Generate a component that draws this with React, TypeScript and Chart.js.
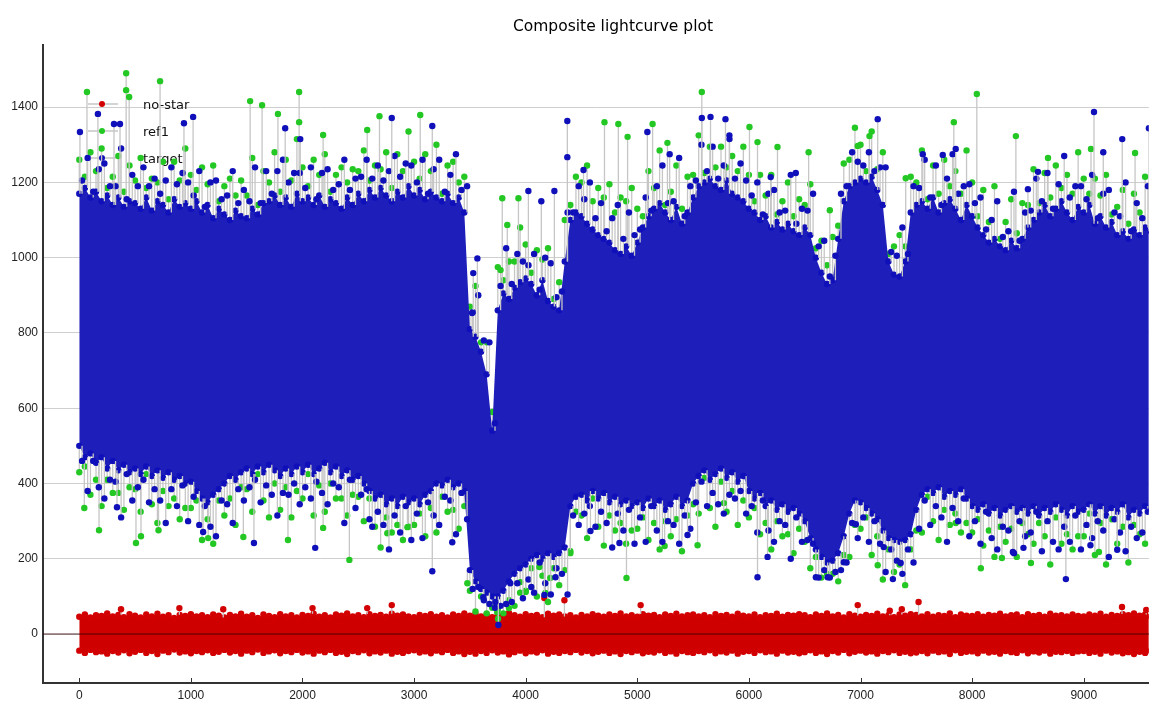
import React, { useEffect, useRef } from "react";
import { Chart, registerables } from "chart.js";

Chart.register(...registerables);

const frames = [
  0, 50, 100, 150, 200, 250, 300, 350, 400, 450,
  500, 550, 600, 650, 700, 750, 800, 850, 900, 950,
  1000, 1050, 1100, 1150, 1200, 1250, 1300, 1350, 1400, 1450,
  1500, 1550, 1600, 1650, 1700, 1750, 1800, 1850, 1900, 1950,
  2000, 2050, 2100, 2150, 2200, 2250, 2300, 2350, 2400, 2450,
  2500, 2550, 2600, 2650, 2700, 2750, 2800, 2850, 2900, 2950,
  3000, 3050, 3100, 3150, 3200, 3250, 3300, 3350, 3400, 3450,
  3500, 3550, 3600, 3650, 3700, 3750, 3800, 3850, 3900, 3950,
  4000, 4050, 4100, 4150, 4200, 4250, 4300, 4350, 4400, 4450,
  4500, 4550, 4600, 4650, 4700, 4750, 4800, 4850, 4900, 4950,
  5000, 5050, 5100, 5150, 5200, 5250, 5300, 5350, 5400, 5450,
  5500, 5550, 5600, 5650, 5700, 5750, 5800, 5850, 5900, 5950,
  6000, 6050, 6100, 6150, 6200, 6250, 6300, 6350, 6400, 6450,
  6500, 6550, 6600, 6650, 6700, 6750, 6800, 6850, 6900, 6950,
  7000, 7050, 7100, 7150, 7200, 7250, 7300, 7350, 7400, 7450,
  7500, 7550, 7600, 7650, 7700, 7750, 7800, 7850, 7900, 7950,
  8000, 8050, 8100, 8150, 8200, 8250, 8300, 8350, 8400, 8450,
  8500, 8550, 8600, 8650, 8700, 8750, 8800, 8850, 8900, 8950,
  9000, 9050, 9100, 9150, 9200, 9250, 9300, 9350, 9400, 9450,
  9500, 9550, 9600,
];
// Frames of the scattered target points just outside the dense cloud
const fringeFrames = [
  25, 75, 125, 175, 225, 275, 325, 375, 425, 475,
  525, 575, 625, 675, 725, 775, 825, 875, 925, 975,
  1025, 1075, 1125, 1175, 1225, 1275, 1325, 1375, 1425, 1475,
  1525, 1575, 1625, 1675, 1725, 1775, 1825, 1875, 1925, 1975,
  2025, 2075, 2125, 2175, 2225, 2275, 2325, 2375, 2425, 2475,
  2525, 2575, 2625, 2675, 2725, 2775, 2825, 2875, 2925, 2975,
  3025, 3075, 3125, 3175, 3225, 3275, 3325, 3375, 3425, 3475,
  3525, 3575, 3625, 3675, 3725, 3775, 3825, 3875, 3925, 3975,
  4025, 4075, 4125, 4175, 4225, 4275, 4325, 4375, 4425, 4475,
  4525, 4575, 4625, 4675, 4725, 4775, 4825, 4875, 4925, 4975,
  5025, 5075, 5125, 5175, 5225, 5275, 5325, 5375, 5425, 5475,
  5525, 5575, 5625, 5675, 5725, 5775, 5825, 5875, 5925, 5975,
  6025, 6075, 6125, 6175, 6225, 6275, 6325, 6375, 6425, 6475,
  6525, 6575, 6625, 6675, 6725, 6775, 6825, 6875, 6925, 6975,
  7025, 7075, 7125, 7175, 7225, 7275, 7325, 7375, 7425, 7475,
  7525, 7575, 7625, 7675, 7725, 7775, 7825, 7875, 7925, 7975,
  8025, 8075, 8125, 8175, 8225, 8275, 8325, 8375, 8425, 8475,
  8525, 8575, 8625, 8675, 8725, 8775, 8825, 8875, 8925, 8975,
  9025, 9075, 9125, 9175, 9225, 9275, 9325, 9375, 9425, 9475,
  9525, 9575,
];

// target: upper / lower edge of the dense cloud
const targetHigh = [
  1170, 1185, 1160, 1175, 1150, 1165, 1140, 1160, 1135, 1150,
  1145, 1130, 1160, 1125, 1150, 1140, 1120, 1155, 1135, 1145,
  1130, 1150, 1120, 1140, 1105, 1130, 1115, 1100, 1125, 1110,
  1105, 1130, 1115, 1145, 1150, 1165, 1140, 1160, 1135, 1170,
  1150, 1160, 1140, 1165, 1135, 1155, 1145, 1130, 1160, 1140,
  1170, 1150, 1180, 1160, 1185, 1165, 1150, 1175, 1160, 1190,
  1165, 1180, 1155, 1175, 1160, 1150, 1170, 1145, 1160, 1120,
  810, 790, 750, 690, 540, 860, 905, 890, 920, 935,
  945, 930, 900, 940, 885, 870, 860, 990, 1100, 1120,
  1110, 1090, 1075, 1060, 1050, 1040, 1020, 1010, 1030, 1005,
  1040, 1080, 1110, 1130, 1145, 1120, 1100, 1135, 1090, 1120,
  1160, 1190, 1200, 1210, 1190, 1180, 1205, 1170, 1160, 1150,
  1130, 1120, 1100, 1110, 1080, 1095, 1075, 1090, 1070, 1060,
  1080, 1060, 1000, 960, 930, 940, 1050, 1150, 1190, 1200,
  1210, 1200, 1215, 1180, 1140, 990, 955, 950, 990, 1120,
  1140, 1150, 1130, 1160, 1120, 1145, 1155, 1130, 1100, 1140,
  1110, 1080, 1060, 1040, 1050, 1030, 1020, 1045, 1025, 1050,
  1080, 1100, 1120, 1140, 1110, 1130, 1150, 1120, 1100, 1135,
  1120, 1140, 1090, 1110, 1080, 1095, 1060, 1070, 1050, 1075,
  1060, 1080, 1070,
];
const targetLow = [
  500, 470, 480, 455, 470, 440, 460, 435, 450, 430,
  440, 425, 445, 420, 435, 415, 430, 410, 420, 400,
  405, 380, 360, 350, 370, 385, 400, 420, 410, 430,
  440, 425, 445, 430, 450, 435, 420, 440, 425, 445,
  430, 450, 425, 440, 455, 430, 445, 420, 435, 410,
  420, 400, 380, 360, 370, 345, 360, 340, 365, 350,
  360, 345, 370, 380, 400, 395, 410, 390, 400, 380,
  170, 140, 120, 110, 100, 100, 115, 140, 160, 175,
  185, 200, 210, 200, 215, 205, 215, 230, 340, 365,
  370, 355, 380, 360, 375, 350, 365, 345, 355, 340,
  350, 335, 360, 340, 355, 330, 345, 365, 340, 355,
  400, 420, 435, 410, 425, 440, 415, 430, 405, 420,
  380, 360, 375, 340, 355, 330, 345, 325, 335, 320,
  300, 255, 225, 205, 190, 195, 215, 260, 320, 355,
  350, 335, 320, 305, 275, 255, 250, 245, 250, 265,
  330, 370, 385, 375, 390, 365, 380, 370, 385, 360,
  340, 330, 345, 320, 335, 315, 330, 340, 325, 335,
  320, 340, 315, 335, 325, 345, 330, 315, 340, 325,
  330, 345, 320, 340, 315, 335, 325, 345, 310, 330,
  320, 340, 330,
];
// target: scattered points above / below the dense cloud (at fringeFrames)
const targetFringeHigh = [
  1205, 1265, 1175, 1235, 1250, 1190, 1190, 1290, 1155, 1220,
  1190, 1240, 1190, 1210, 1170, 1205, 1240, 1195, 1225, 1200,
  1165, 1230, 1135, 1200, 1205, 1155, 1165, 1230, 1145, 1180,
  1150, 1240, 1145, 1230, 1170, 1230, 1260, 1200, 1225, 1225,
  1185, 1240, 1155, 1225, 1235, 1180, 1195, 1260, 1180, 1210,
  1215, 1260, 1210, 1245, 1205, 1230, 1270, 1215, 1250, 1245,
  1200, 1260, 1170, 1235, 1260, 1175, 1220, 1275, 1180, 1190,
  855, 900, 780, 775, 560, 925, 1025, 930, 1010, 990,
  980, 1010, 915, 1000, 985, 895, 910, 1120, 1120, 1190,
  1155, 1200, 1105, 1145, 1070, 1105, 1140, 1050, 1120, 1060,
  1075, 1160, 1125, 1190, 1245, 1145, 1150, 1265, 1110, 1190,
  1205, 1300, 1230, 1295, 1210, 1245, 1325, 1210, 1250, 1205,
  1165, 1200, 1115, 1170, 1180, 1120, 1125, 1220, 1090, 1130,
  1125, 1170, 1030, 1045, 950, 1005, 1170, 1190, 1280, 1255,
  1245, 1280, 1230, 1240, 1240, 1015, 1005, 1080, 1010, 1190,
  1185, 1260, 1160, 1245, 1140, 1210, 1275, 1170, 1190, 1195,
  1145, 1160, 1075, 1100, 1150, 1055, 1070, 1175, 1045, 1120,
  1125, 1210, 1150, 1225, 1130, 1195, 1270, 1160, 1190, 1190,
  1155, 1220, 1105, 1170, 1180, 1120, 1110, 1200, 1070, 1145,
  1105, 1190,
];
const targetFringeLow = [
  460, 380, 460, 390, 360, 410, 405, 310, 425, 355,
  390, 410, 350, 385, 355, 295, 385, 340, 395, 300,
  365, 290, 340, 285, 260, 355, 345, 295, 385, 355,
  390, 410, 350, 395, 370, 315, 375, 370, 400, 345,
  390, 360, 405, 375, 345, 400, 390, 295, 410, 335,
  370, 385, 285, 325, 290, 225, 315, 270, 340, 250,
  320, 255, 350, 315, 290, 365, 355, 265, 375, 305,
  120, 125, 90, 80, 70, 75, 80, 85, 135, 95,
  145, 110, 190, 135, 105, 175, 160, 105, 315, 290,
  320, 340, 285, 325, 295, 230, 320, 275, 330, 240,
  310, 245, 340, 275, 245, 300, 290, 240, 315, 280,
  350, 405, 340, 375, 345, 320, 370, 360, 380, 320,
  340, 270, 355, 275, 245, 300, 290, 200, 310, 245,
  250, 240, 150, 170, 150, 165, 170, 190, 295, 255,
  310, 245, 300, 240, 165, 225, 195, 160, 225, 190,
  280, 355, 290, 340, 310, 245, 335, 300, 360, 260,
  300, 240, 325, 255, 225, 285, 275, 215, 300, 260,
  270, 325, 220, 300, 245, 225, 285, 245, 315, 225,
  290, 255, 300, 275, 205, 305, 270, 220, 285, 255,
  270, 325,
];

// ref1: points seen above / below the target cloud
const refHigh = [
  1260, 1215, 1280, 1230, 1290, 1185, 1215, 1270, 1175, 1245,
  1205, 1265, 1185, 1210, 1200, 1255, 1155, 1255, 1205, 1290,
  1220, 1180, 1240, 1195, 1245, 1150, 1190, 1210, 1165, 1205,
  1165, 1265, 1140, 1230, 1200, 1280, 1175, 1260, 1205, 1315,
  1240, 1190, 1260, 1220, 1275, 1175, 1220, 1240, 1200, 1235,
  1230, 1285, 1205, 1245, 1235, 1280, 1185, 1275, 1230, 1335,
  1255, 1210, 1275, 1230, 1300, 1170, 1245, 1255, 1200, 1215,
  870, 925, 775, 775, 590, 975, 940, 990, 990, 1080,
  1035, 960, 1020, 995, 1025, 890, 935, 1100, 1140, 1215,
  1200, 1245, 1150, 1185, 1160, 1195, 1120, 1160, 1150, 1185,
  1130, 1110, 1230, 1185, 1285, 1140, 1175, 1245, 1130, 1215,
  1220, 1325, 1225, 1295, 1240, 1295, 1240, 1270, 1230, 1295,
  1220, 1150, 1220, 1165, 1220, 1115, 1150, 1200, 1110, 1155,
  1140, 1195, 1025, 1045, 980, 1055, 1085, 1250, 1260, 1345,
  1300, 1230, 1335, 1235, 1280, 1010, 1030, 1060, 1030, 1215,
  1200, 1285, 1155, 1245, 1170, 1260, 1190, 1230, 1170, 1285,
  1200, 1110, 1180, 1095, 1190, 1050, 1095, 1155, 1065, 1145,
  1140, 1235, 1145, 1225, 1160, 1245, 1185, 1220, 1170, 1280,
  1210, 1170, 1210, 1165, 1220, 1115, 1135, 1180, 1090, 1170,
  1120, 1215, 1095,
];
const refLow = [
  430, 445, 370, 410, 340, 410, 375, 375, 330, 390,
  385, 325, 425, 345, 295, 380, 340, 360, 305, 335,
  335, 355, 250, 305, 240, 355, 315, 360, 290, 390,
  385, 325, 425, 355, 310, 400, 330, 390, 310, 380,
  360, 425, 315, 395, 325, 400, 360, 360, 315, 370,
  365, 300, 360, 285, 230, 310, 270, 290, 250, 285,
  290, 320, 260, 335, 270, 365, 325, 330, 280, 340,
  115, 60, 100, 55, 70, 65, 55, 90, 75, 110,
  115, 175, 100, 155, 85, 175, 130, 170, 220, 325,
  315, 255, 360, 285, 235, 315, 275, 295, 240, 275,
  280, 310, 250, 295, 225, 300, 260, 305, 220, 315,
  345, 320, 415, 335, 285, 405, 325, 380, 290, 355,
  310, 335, 265, 295, 225, 300, 260, 265, 215, 280,
  245, 175, 205, 150, 160, 160, 140, 210, 205, 290,
  280, 310, 210, 260, 145, 225, 165, 185, 130, 225,
  275, 270, 365, 300, 250, 330, 290, 320, 270, 295,
  270, 305, 235, 275, 205, 285, 245, 280, 205, 295,
  265, 240, 295, 260, 185, 310, 240, 265, 225, 260,
  260, 320, 210, 295, 185, 305, 240, 285, 190, 290,
  265, 240, 310,
];

// no-star: upper / lower edge of the band around zero
const noStarHigh = [
  46, 52, 44, 50, 48, 55, 47, 51, 45, 53,
  49, 44, 52, 47, 54, 46, 50, 43, 51, 48,
  53, 47, 50, 45, 52, 49, 44, 51, 47, 54,
  46, 50, 43, 52, 48, 45, 53, 47, 50, 44,
  51, 48, 54, 46, 50, 44, 52, 49, 55, 47,
  50, 45, 53, 48, 51, 46, 54, 49, 52, 47,
  45, 51, 48, 53, 46, 50, 44, 52, 48, 55,
  49, 54, 47, 52, 45, 51, 48, 56, 50, 46,
  53, 48, 51, 45, 54, 49, 52, 47, 50, 44,
  51, 47, 53, 49, 46, 52, 48, 55, 47, 50,
  46, 53, 49, 51, 45, 52, 48, 54, 47, 50,
  52, 47, 50, 45, 53, 48, 51, 46, 54, 49,
  47, 52, 45, 50, 48, 54, 46, 51, 49, 53,
  50, 45, 52, 48, 55, 47, 51, 44, 53, 49,
  46, 51, 48, 54, 47, 50, 45, 52, 49, 53,
  51, 47, 53, 46, 50, 48, 55, 45, 52, 49,
  48, 53, 46, 51, 49, 54, 47, 50, 52, 45,
  53, 48, 51, 46, 54, 49, 50, 47, 52, 48,
  47, 52, 49, 54, 46, 51, 48, 53, 50, 55,
  49, 52, 47,
];
const noStarLow = [
  -44, -50, -42, -48, -46, -52, -45, -49, -43, -51,
  -47, -42, -50, -45, -53, -44, -48, -41, -49, -46,
  -51, -45, -48, -43, -50, -47, -42, -49, -45, -52,
  -44, -48, -41, -50, -46, -43, -51, -45, -48, -42,
  -49, -46, -52, -44, -48, -42, -50, -47, -53, -45,
  -48, -43, -51, -46, -49, -44, -52, -47, -50, -45,
  -43, -49, -46, -51, -44, -48, -42, -50, -46, -53,
  -47, -52, -45, -50, -43, -49, -46, -54, -48, -44,
  -51, -46, -49, -43, -52, -47, -50, -45, -48, -42,
  -49, -45, -51, -47, -44, -50, -46, -53, -45, -48,
  -44, -51, -47, -49, -43, -50, -46, -52, -45, -48,
  -50, -45, -48, -43, -51, -46, -49, -44, -52, -47,
  -45, -50, -43, -48, -46, -52, -44, -49, -47, -51,
  -48, -43, -50, -46, -53, -45, -49, -42, -51, -47,
  -44, -49, -46, -52, -45, -48, -43, -50, -47, -51,
  -49, -45, -51, -44, -48, -46, -53, -43, -50, -47,
  -46, -51, -44, -49, -47, -52, -45, -48, -50, -43,
  -51, -46, -49, -44, -52, -47, -48, -45, -50, -46,
  -45, -50, -47, -52, -44, -49, -46, -51, -48, -53,
  -47, -50, -45,
];

// isolated points far outside the clouds
const targetOutFrames = [
  6, 167, 311, 365, 938, 1020, 1845, 1980, 2800, 3163,
  338, 1110, 1565, 2114, 3163, 2600, 3342,
  3520, 3530, 3567, 4024, 4140, 4257, 4373, 4373, 4518,
  3620, 3728, 3755, 3862, 4050, 4167, 4267,
  5090, 5290, 5578, 5656, 5790, 5826, 6195, 6420,
  4580, 4840, 5450, 6077, 6167, 6600, 6706, 6850, 6958,
  7154, 7558, 7737, 7853, 8500, 8590, 9092, 9175, 9345, 9584,
  7208, 7290, 7360, 8365, 8460, 8840, 9060, 9300,
];
const targetOutValues = [
  1334, 1382, 1355, 1355, 1357, 1374, 1344, 1315, 1371, 1350,
  337, 271, 242, 229, 167, 305, 244,
  853, 959, 998, 1177, 1150, 1177, 1363, 1267, 1233,
  98, 85, 24, 135, 125, 104, 151,
  1334, 1275, 1371, 1374, 1368, 1315, 1214, 1225,
  274, 242, 263, 151, 205, 151, 151, 191, 292,
  1368, 1275, 1273, 1289, 1182, 1228, 1387, 1280, 1315, 1344,
  231, 146, 189, 218, 229, 146, 236, 224,
];
const refOutFrames = [
  69, 420, 420, 447, 724, 1531, 1638, 1780, 1970, 1970, 2185, 2580, 2690, 3055,
  45, 177, 508, 553, 710, 1155, 1470, 1870, 2185, 2420, 2760, 2940,
  3775, 3790, 3835, 3935,
  3477, 3745, 3752, 3817, 3850, 3952, 4000, 4122, 4176, 4220,
  4706, 4830, 4913, 5137, 5270, 5578, 6005, 6077, 6256, 6535, 6725, 6975,
  4400, 4903, 5245, 5540, 5775,
  7080, 7405, 7836, 8042, 8392, 8680, 9065, 9460,
  7154, 7853, 8078, 8267, 8527, 9136,
];
const refOutValues = [
  1440, 1490, 1445, 1427, 1469, 1416, 1405, 1382, 1440, 1360, 1326, 1339, 1376, 1379,
  335, 276, 242, 260, 276, 255, 258, 250, 282, 197, 268, 284,
  967, 1158, 1087, 1158,
  135, 58, 41, 167, 69, 138, 112, 178, 109, 149,
  1360, 1355, 1321, 1355, 1305, 1440, 1347, 1307, 1294, 1280, 1126, 1297,
  215, 149, 234, 236, 348,
  1323, 1211, 1360, 1435, 1323, 1265, 1289, 1278,
  183, 295, 175, 202, 189, 218,
];
const noStarOutFrames = [374, 897, 1290, 2090, 2580, 2800, 4167, 4347, 5030, 6975, 7262, 7370, 7520, 9343, 9560];
const noStarOutValues = [66, 69, 66, 69, 69, 77, 96, 90, 77, 77, 62, 66, 85, 72, 64];

const seriesNames = ["no-star", "ref1", "target"];
const titleText = "Composite lightcurve plot";
const xTickValues = [0, 1000, 2000, 3000, 4000, 5000, 6000, 7000, 8000, 9000];
const yTickValues = [0, 200, 400, 600, 800, 1000, 1200, 1400];

const RED = "rgb(210,0,0)";
const GREEN = "rgb(36,200,36)";
const BLUE = "rgb(16,16,186)";
const STEM = "rgb(198,198,198)";
const FONT = "'Liberation Sans', Arial, sans-serif";
const TFONT = "'DejaVu Sans', Verdana, sans-serif";

function nearestIndex(x: number) {
  let best = 0;
  for (let j = 1; j < frames.length; j++) {
    if (Math.abs(frames[j] - x) < Math.abs(frames[best] - x)) best = j;
  }
  return best;
}

function band(values: number[]) {
  return frames.map((f, i) => ({ x: f, y: values[i] }));
}

// each point gets a grey stem back to the edge of the dense cloud
function stems(xs: number[], ys: number[], hi: number[], lo: number[]) {
  const pts: any[] = [];
  xs.forEach((x, i) => {
    const k = nearestIndex(x);
    const y = ys[i];
    const base = y > hi[k] ? hi[k] : y < lo[k] ? lo[k] : y;
    pts.push({ x, y: base, tip: false }, { x, y, tip: true }, { x, y: null });
  });
  return pts;
}

function edgeSet(label: string, values: number[], color: string, order: number, fill: any, fillColor: string) {
  return {
    label,
    data: band(values),
    order,
    showLine: true,
    borderColor: "rgba(0,0,0,0)",
    borderWidth: 1,
    fill,
    backgroundColor: fillColor,
    pointRadius: 3.2,
    pointBorderWidth: 0,
    pointBackgroundColor: color,
    pointHoverRadius: 3,
  };
}

function stemSet(label: string, pts: any[], color: string, order: number) {
  return {
    label,
    data: pts,
    order,
    showLine: true,
    spanGaps: false,
    borderColor: STEM,
    borderWidth: 1.3,
    fill: false,
    pointRadius: (c: any) => (c.raw && c.raw.tip ? 3.2 : 0),
    pointBorderWidth: 0,
    pointBackgroundColor: color,
  };
}

const titlePlugin = {
  id: "plotTitle",
  afterDraw(chart: any) {
    const { ctx } = chart;
    ctx.save();
    ctx.fillStyle = "#000";
    ctx.font = "15.5px " + TFONT;
    ctx.textAlign = "center";
    ctx.textBaseline = "middle";
    ctx.fillText(titleText, 613, 27);
    ctx.restore();
  },
};

const legendPlugin = {
  id: "insideLegend",
  beforeDatasetsDraw(chart: any) {
    const { ctx, chartArea } = chart;
    const colors = [RED, GREEN, BLUE];
    ctx.save();
    seriesNames.forEach((name, i) => {
      const yy = chartArea.top + 59 + i * 27;
      const x0 = chartArea.left + 45;
      ctx.strokeStyle = STEM;
      ctx.lineWidth = 1.5;
      ctx.beginPath();
      ctx.moveTo(x0, yy);
      ctx.lineTo(x0 + 30, yy);
      ctx.stroke();
      ctx.fillStyle = colors[i];
      ctx.beginPath();
      ctx.arc(x0 + 14, yy, 3, 0, Math.PI * 2);
      ctx.fill();
      ctx.fillStyle = "#111";
      ctx.font = "13px " + TFONT;
      ctx.textBaseline = "middle";
      ctx.textAlign = "left";
      ctx.fillText(name, x0 + 55, yy + 2);
    });
    ctx.restore();
  },
};

const axisDecorPlugin = {
  id: "axisDecor",
  afterDatasetsDraw(chart: any) {
    const { ctx, chartArea, scales } = chart;
    const y = scales.y.getPixelForValue(0);
    ctx.save();
    ctx.strokeStyle = "rgba(50,0,0,0.55)";
    ctx.lineWidth = 1.5;
    ctx.beginPath();
    ctx.moveTo(chartArea.left, y);
    ctx.lineTo(chartArea.right, y);
    ctx.stroke();
    ctx.strokeStyle = "#333";
    ctx.lineWidth = 1;
    scales.x.ticks.forEach((t: any) => {
      const px = Math.round(scales.x.getPixelForValue(t.value)) + 0.5;
      ctx.beginPath();
      ctx.moveTo(px, chartArea.bottom - 5);
      ctx.lineTo(px, chartArea.bottom);
      ctx.stroke();
    });
    ctx.restore();
  },
};

export default function App() {
  const ref = useRef<HTMLCanvasElement | null>(null);

  useEffect(() => {
    if (!ref.current) return;
    const datasets: any[] = [
      stemSet(seriesNames[2], stems(targetOutFrames, targetOutValues, targetHigh, targetLow), BLUE, 1),
      stemSet(seriesNames[2] + " fringe+", stems(fringeFrames, targetFringeHigh, targetHigh, targetLow), BLUE, 2),
      stemSet(seriesNames[2] + " fringe-", stems(fringeFrames, targetFringeLow, targetHigh, targetLow), BLUE, 2),
      edgeSet(seriesNames[2] + " low", targetLow, BLUE, 3, false, BLUE),
      edgeSet(seriesNames[2] + " high", targetHigh, BLUE, 3, 3, "rgb(30,30,186)"),
      stemSet(seriesNames[1], stems(refOutFrames, refOutValues, targetHigh, targetLow), GREEN, 4),
      stemSet(seriesNames[1] + " +", stems(frames, refHigh, targetHigh, targetLow), GREEN, 5),
      stemSet(seriesNames[1] + " -", stems(frames, refLow, targetHigh, targetLow), GREEN, 5),
      stemSet(seriesNames[0], stems(noStarOutFrames, noStarOutValues, noStarHigh, noStarLow), RED, 6),
      edgeSet(seriesNames[0] + " low", noStarLow, RED, 7, false, RED),
      edgeSet(seriesNames[0] + " high", noStarHigh, RED, 7, 9, "rgb(207,0,0)"),
    ];

    const chart = new Chart(ref.current, {
      type: "line",
      data: { datasets },
      plugins: [legendPlugin, axisDecorPlugin, titlePlugin],
      options: {
        animation: false,
        responsive: true,
        maintainAspectRatio: false,
        events: [],
        layout: { padding: { top: 45, left: 0, right: 0, bottom: 0 } },
        plugins: {
          legend: { display: false },
          tooltip: { enabled: false },
          title: { display: false },
        },
        scales: {
          x: {
            type: "linear",
            min: -325,
            max: 9583,
            afterBuildTicks: (s: any) => {
              s.ticks = xTickValues.map((v) => ({ value: v }));
            },
            afterFit: (s: any) => {
              s.height = 30;
            },
            grid: { display: false, drawTicks: false },
            border: { display: true, color: "#333", width: 2 },
            ticks: {
              padding: 5,
              color: "#222",
              font: { family: FONT, size: 12 },
              callback: (v: any) => String(v),
              maxRotation: 0,
              autoSkip: false,
            },
          },
          y: {
            type: "linear",
            min: -130,
            max: 1565,
            afterBuildTicks: (s: any) => {
              s.ticks = yTickValues.map((v) => ({ value: v }));
            },
            afterFit: (s: any) => {
              s.width = 43;
            },
            grid: { color: "#cfcfcf", lineWidth: 1, drawTicks: false },
            border: { display: true, color: "#333", width: 2 },
            ticks: {
              padding: 5,
              color: "#222",
              font: { family: FONT, size: 12 },
              callback: (v: any) => String(v),
            },
          },
        },
      },
    });
    return () => chart.destroy();
  }, []);

  return (
    <div style={{ position: "fixed", left: 0, top: 0, width: 1152, height: 713, background: "#fff" }}>
      <canvas ref={ref} />
    </div>
  );
}
